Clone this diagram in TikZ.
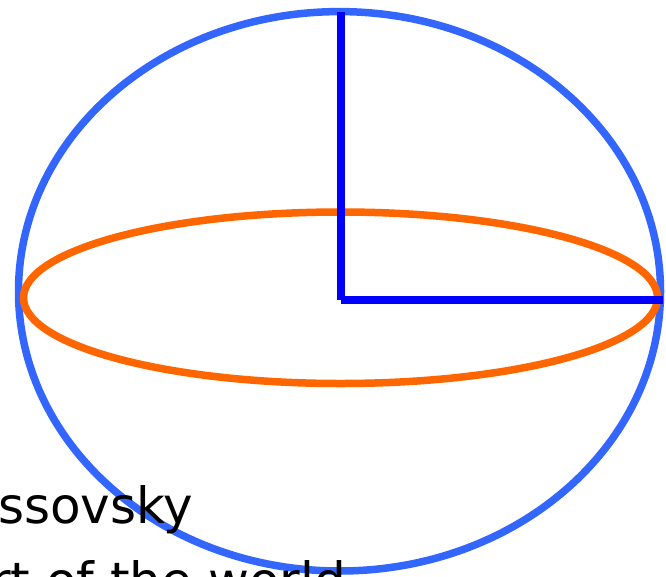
\documentclass[tikz,border=0pt]{standalone}
\usepackage{xcolor}
\usepackage{tikz}
\usepackage{fontspec}
\setmainfont{DejaVu Sans}
\definecolor{shellblue}{RGB}{51,102,255}
\definecolor{axisblue}{RGB}{0,0,255}
\definecolor{ringorange}{RGB}{255,102,0}

\begin{document}
\begin{tikzpicture}[x=1pt,y=-1pt,
  shell/.style={draw=shellblue,line width=7.5pt},
  ring/.style={draw=ringorange,line width=7.5pt},
  axis/.style={draw=axisblue,line width=8pt},
  caption/.style={anchor=base west,inner sep=0pt,font=\fontsize{50}{75}\selectfont}]
  \useasboundingbox (0,0) rectangle (666,576);
  \clip (0,0) rectangle (666,576);
  % Outline and equator
  \draw[shell] (339.5,291.3) ellipse[x radius=321pt,y radius=279.7pt];
  \draw[ring] (340.5,297.75) ellipse[x radius=317pt,y radius=85.75pt];
  % Axes
  \coordinate (pole) at (340.5,12);
  \coordinate (centre) at (340.5,299.5);
  \coordinate (rim) at (663,299.5);
  \draw[axis] (pole) -- (centre);
  \draw[axis] (centre) -- (rim);
  % Text
  \node[caption] (name) at (-2,523) {ssovsky};
  \node[caption] (line) at (-10,598) {rt of the world};
\end{tikzpicture}
\end{document}
